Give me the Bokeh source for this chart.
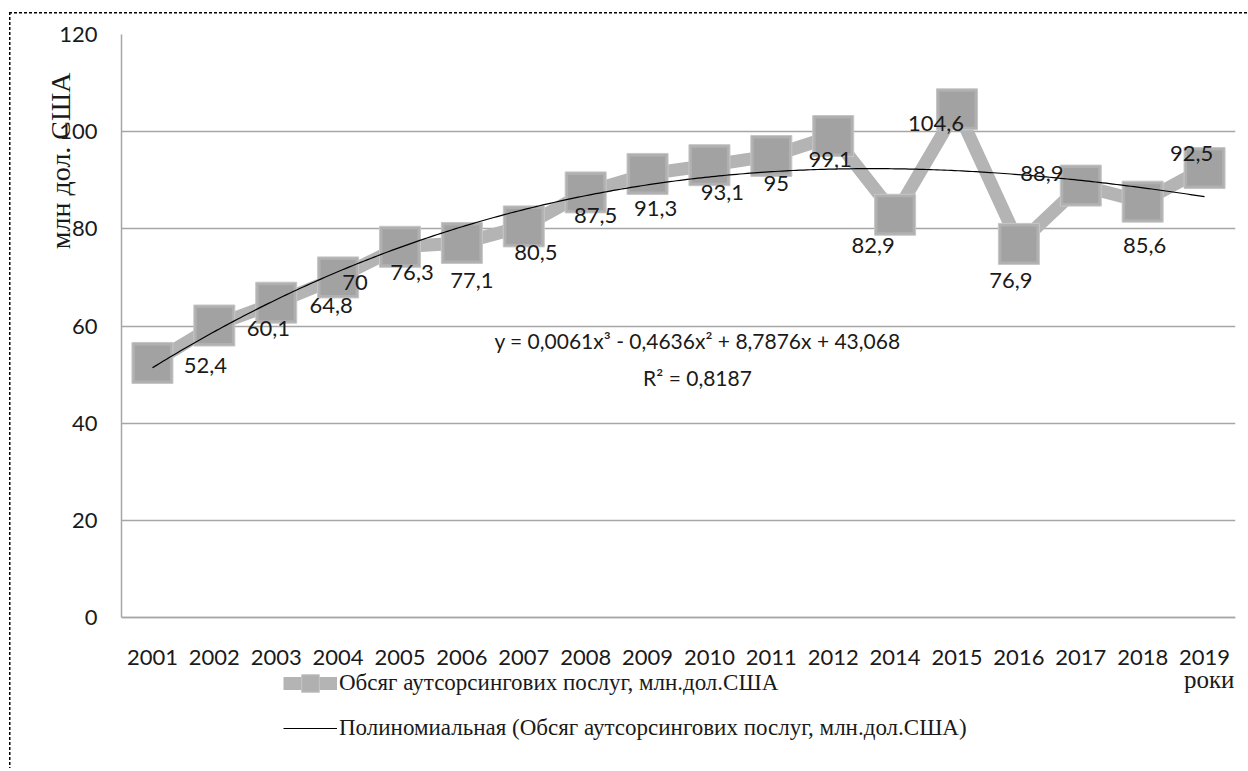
import numpy as np
from bokeh.plotting import figure
from bokeh.models import (Label, Legend, LegendItem, FactorRange, Range1d,
                          ColumnDataSource, FixedTicker, Title)
from bokeh.embed import file_html
from bokeh.resources import INLINE
from bokeh.core.properties import value

# ---------------- data ----------------
years = ["2001", "2002", "2003", "2004", "2005", "2006", "2007", "2008", "2009",
         "2010", "2011", "2012", "2014", "2015", "2016", "2017", "2018", "2019"]
volumes = [52.4, 60.1, 64.8, 70, 76.3, 77.1, 80.5, 87.5, 91.3,
           93.1, 95, 99.1, 82.9, 104.6, 76.9, 88.9, 85.6, 92.5]
y_ticks = [0, 20, 40, 60, 80, 100, 120]
# coefficients of the polynomial trend shown on the chart (x = 1..18)
trend_coef = [0.0061, -0.4636, 8.7876, 43.068]
series_name = "Обсяг аутсорсингових послуг, млн.дол.США"
trend_name = "Полиномиальная (Обсяг аутсорсингових послуг, млн.дол.США)"
equation_text = "y = 0,0061x³ - 0,4636x² + 8,7876x + 43,068"
r2_text = "R² = 0,8187"
y_title = "млн дол. США"
x_title = "роки"

# label placement offsets (screen px)
label_dx = [53, 54, 55, 17, 12, 10, 12, 10, 8, 13, 5, -3, -22, -21, -8, -39, 2, -13]
label_dy = [3, 3, 3, 5, 26, 38, 26, 23, 35, 27, 28, 23, 31, 14, 37, -12, 44, -15]

labels = [f"{v:g}".replace(".", ",") for v in volumes]
src = ColumnDataSource(dict(x=years, y=volumes, lab=labels, dx=label_dx, dy=label_dy))

n = len(years)
tx = np.linspace(1, n, 300)
ty = np.polyval(trend_coef, tx)
trend_src = ColumnDataSource(dict(x=tx - 0.5, y=ty))

# ---------------- layout constants ----------------
W, H = 1248, 768
TOP, LEFT, RIGHT, BOTTOM = 34, 121, 13, 2      # frame borders (px)
ZERO_PX = 617                                   # page y of value 0
px_per_unit = (ZERO_PX - TOP) / 120.0
y_start = -((H - BOTTOM) - ZERO_PX) / px_per_unit   # frame extends below 0 for legend

# ---------------- figure ----------------
p = figure(width=W, height=H, x_range=FactorRange(*years),
           y_range=Range1d(y_start, 120), output_backend="svg", toolbar_location=None,
           min_border_left=LEFT, min_border_right=RIGHT, min_border_top=TOP,
           min_border_bottom=BOTTOM)
p.border_fill_color = None
p.outline_line_color = None
p.background_fill_color = "white"
p.styles = {
    "background-image": "repeating-linear-gradient(to right, #000 0 3px, transparent 3px 5px),"
                        "repeating-linear-gradient(to bottom, #000 0 3px, transparent 3px 5px)",
    "background-size": "100% 1.5px, 1.5px 100%",
    "background-position": "9px 12px, 9px 12px",
    "background-repeat": "no-repeat, no-repeat",
}

p.xgrid.visible = False
p.ygrid.ticker = FixedTicker(ticks=y_ticks)
p.ygrid.grid_line_color = "#a6a6a6"
p.ygrid.grid_line_width = 1.5

xa = p.xaxis[0]
ya = p.yaxis[0]
ya.ticker = FixedTicker(ticks=y_ticks)
ya.bounds = (0, 120)
xa.fixed_location = 0
for ax in (xa, ya):
    ax.axis_line_color = "#a6a6a6"
    ax.axis_line_width = 1.5
    ax.major_tick_line_color = None
    ax.minor_tick_line_color = None
    ax.major_tick_out = 0
    ax.major_tick_in = 0
    ax.major_label_text_font = "Lato"
    ax.major_label_text_font_size = "22px"
    ax.major_label_text_color = "#1a1a1a"
ya.major_label_standoff = 24
xa.major_label_standoff = 32

# y title as a side title, placed where the original has it
yt = Title(text=y_title, align="right", vertical_align="bottom", offset=38,
           text_font="Liberation Serif", text_font_size="28px",
           text_font_style="normal", text_color="#1a1a1a")
try:
    yt.standoff = -38
except Exception:
    yt.standoff = 0
p.add_layout(yt, "left")

# ---------------- glyphs ----------------
conn = p.line("x", "y", source=src, line_color="#b4b4b4", line_width=13,
              line_join="round")
marks = p.scatter("x", "y", source=src, marker="square", size=41,
                  fill_color="#b0b0b0", line_color="#c6c6c6", line_width=1)
p.scatter("x", "y", source=src, marker="square", size=35,
          fill_color="#a2a2a2", line_color=None)
trend = p.line("x", "y", source=trend_src, line_color="black", line_width=1.2)

p.text("x", "y", text="lab", source=src, x_offset="dx", y_offset="dy",
       text_font=value("Lato"), text_font_size="22px", text_color="#1a1a1a",
       text_align="center", text_baseline="middle")

# equation (screen units relative to the frame's bottom-left corner)
fb = H - BOTTOM
p.add_layout(Label(x=697 - LEFT, y=fb - 340, x_units="screen", y_units="screen",
                   text=equation_text, text_font="Lato", text_font_size="21px",
                   text_color="#1a1a1a", text_align="center", text_baseline="middle"))
p.add_layout(Label(x=697 - LEFT, y=fb - 377, x_units="screen", y_units="screen",
                   text=r2_text, text_font="Lato", text_font_size="21px",
                   text_color="#1a1a1a", text_align="center", text_baseline="middle"))

# x title
p.add_layout(Label(x=1234 - LEFT, y=fb - 679, x_units="screen", y_units="screen",
                   text=x_title, text_font="Liberation Serif", text_font_size="25px",
                   text_color="#1a1a1a", text_align="right", text_baseline="middle"))

# legend under the axis labels
legend = Legend(items=[LegendItem(label=series_name, renderers=[conn, marks]),
                       LegendItem(label=trend_name, renderers=[trend])],
                location=(283 - LEFT, fb - 661 - 89), orientation="vertical",
                label_text_font="Liberation Serif", label_text_font_size="23px",
                label_text_color="#1a1a1a", glyph_width=54, glyph_height=44,
                label_height=44, label_standoff=2, spacing=1,
                padding=0, margin=0, border_line_color=None,
                background_fill_alpha=0)
p.add_layout(legend, "center")

open("out.html", "w").write(file_html(p, INLINE))
